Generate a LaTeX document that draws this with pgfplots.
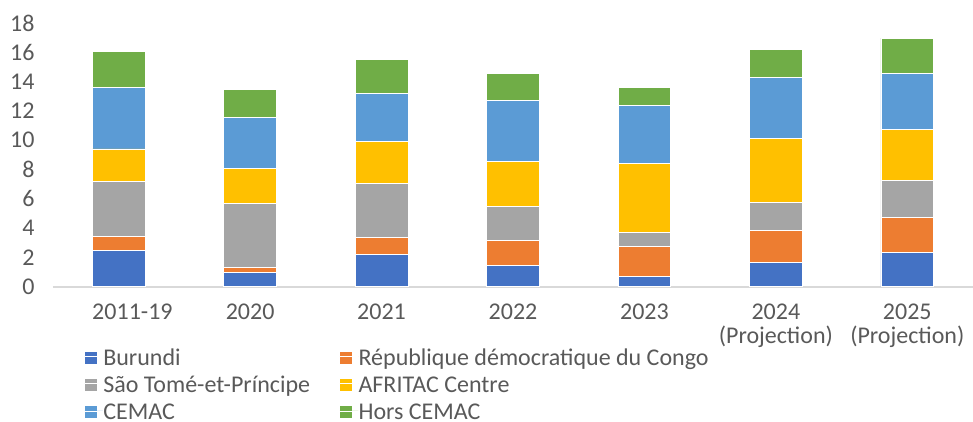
\documentclass[border=0pt]{standalone}
\usepackage{fontspec}
\setmainfont{Carlito}
\usepackage{pgfplots}
\pgfplotsset{compat=1.18}
\definecolor{cBur}{HTML}{4472C4}
\definecolor{cRDC}{HTML}{ED7D31}
\definecolor{cSTP}{HTML}{A5A5A5}
\definecolor{cAFR}{HTML}{FFC000}
\definecolor{cCEM}{HTML}{5B9BD5}
\definecolor{cHors}{HTML}{70AD47}
\definecolor{tc}{HTML}{595959}
\definecolor{axc}{HTML}{D9D9D9}
\begin{document}
\begin{tikzpicture}
\begin{axis}[name=ax, scale only axis, width=460pt, height=131.85pt,
  ybar stacked, bar width=26.35pt,
  xmin=-0.5, xmax=6.5, ymin=0, ymax=18,
  xtick={0,...,6},
  xticklabels={{\hspace*{13.7pt}2011-19},2020,2021,2022,2023,{2024\\(Projection)},{2025\\(Projection)}},
  ytick={0,2,...,18},
  axis x line*=bottom, axis y line*=left,
  y axis line style={draw=none},
  x axis line style={draw=axc, line width=1pt},
  tick style={draw=none},
  major tick length=0pt,
  /pgf/number format/assume math mode=true,
  xticklabel style={align=center, font=\fontsize{12}{11.7}\selectfont, text=tc, yshift=-5.15pt},
  yticklabel style={font=\fontsize{12}{14}\selectfont, text=tc, xshift=-5.75pt},
  every axis plot/.append style={draw=white, line width=0.3pt},
  legend columns=2,
  legend cell align=left,
  legend image code/.code={\fill[#1,draw=none] (0pt,-3.5pt) rectangle (6pt,2.5pt); \path (0pt,0pt) -- (9.2pt,0pt);},
  legend style={draw=none, fill=none, inner sep=0pt, outer sep=0pt, row sep=4.9pt, column sep=0pt,
    nodes={inner sep=0pt, text height=8.7pt, text depth=0pt, font=\fontsize{12}{14}\selectfont, text=tc},
    at={(0.034,-0.2317)}, anchor=north west},
]
\addplot[fill=cBur] coordinates {(0,2.48) (1,0.96) (2,2.21) (3,1.43) (4,0.71) (5,1.67) (6,2.35)};
\addlegendentry{\makebox[118.15pt][l]{Burundi}}
\addplot[fill=cRDC] coordinates {(0,0.93) (1,0.36) (2,1.16) (3,1.74) (4,2.02) (5,2.18) (6,2.36)};
\addlegendentry{République démocratique du Congo}
\addplot[fill=cSTP] coordinates {(0,3.76) (1,4.39) (2,3.69) (3,2.32) (4,0.96) (5,1.88) (6,2.57)};
\addlegendentry{\makebox[118.15pt][l]{São Tomé-et-Príncipe}}
\addplot[fill=cAFR] coordinates {(0,2.23) (1,2.37) (2,2.84) (3,3.04) (4,4.71) (5,4.40) (6,3.46)};
\addlegendentry{AFRITAC Centre}
\addplot[fill=cCEM] coordinates {(0,4.23) (1,3.46) (2,3.30) (3,4.19) (4,3.98) (5,4.16) (6,3.80)};
\addlegendentry{\makebox[118.15pt][l]{CEMAC}}
\addplot[fill=cHors] coordinates {(0,2.41) (1,1.91) (2,2.32) (3,1.85) (4,1.23) (5,1.91) (6,2.42)};
\addlegendentry{Hors CEMAC}
\end{axis}
\pgfresetboundingbox
\path (ax.south west) ++(-26.5pt,-67.65pt) rectangle ([shift={(460pt,143.35pt)}]ax.south west);
\end{tikzpicture}
\end{document}
